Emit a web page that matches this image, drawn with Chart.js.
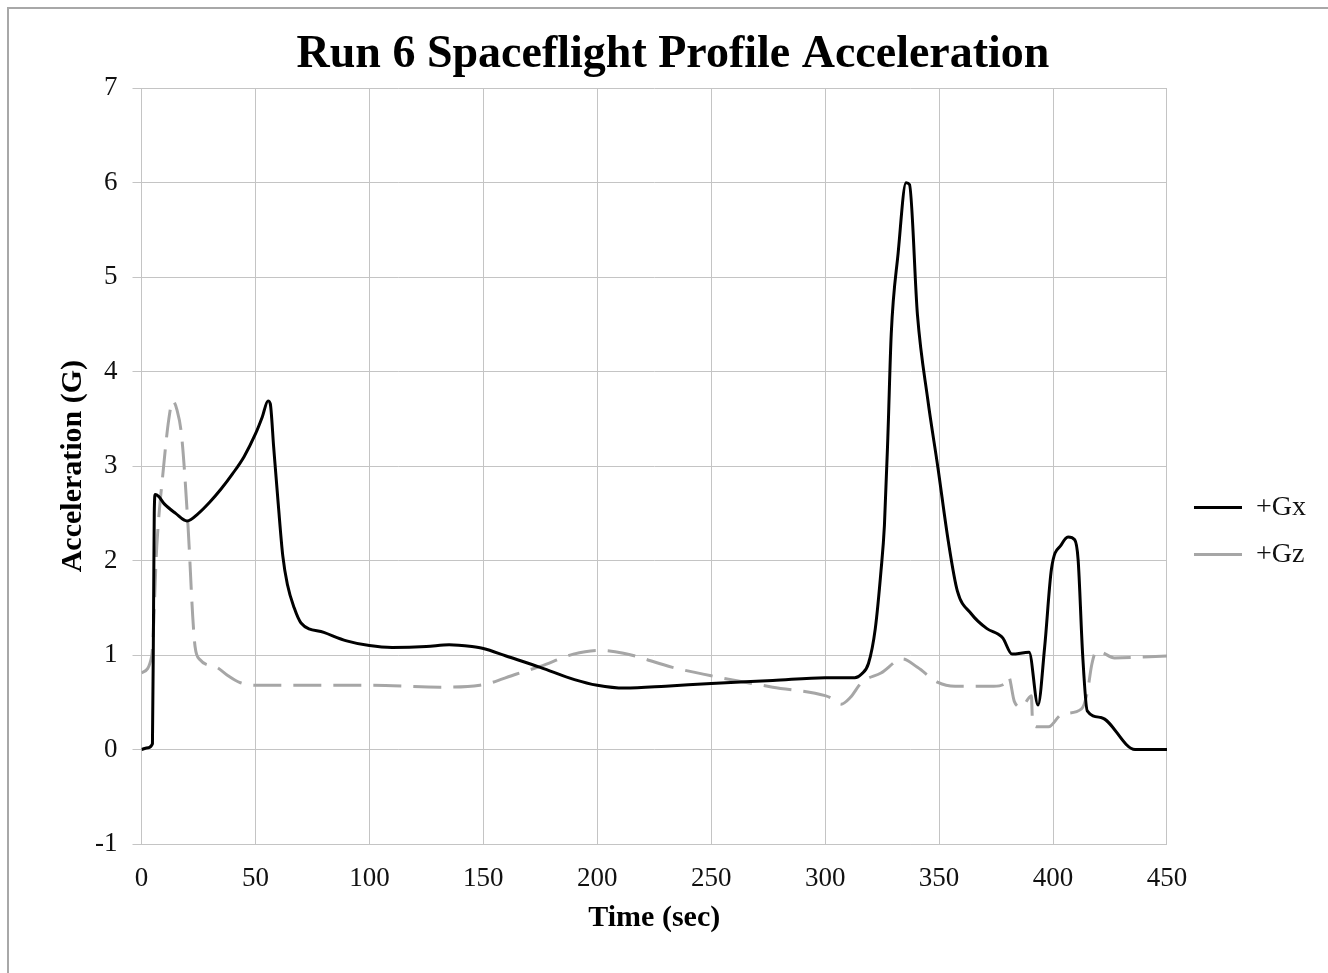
<!DOCTYPE html>
<html>
<head>
<meta charset="utf-8">
<script src="https://cdn.jsdelivr.net/npm/chart.js@4.4.1/dist/chart.umd.min.js"></script>
<style>
  html, body { margin: 0; padding: 0; background: #fff; }
  #wrap { position: relative; width: 1328px; height: 973px; overflow: hidden; }
  #frame { position: absolute; left: 7px; top: 7px; width: 1400px; height: 1000px; border: 2px solid #a8a8a8; box-sizing: border-box; }
  #wrap canvas { position: absolute; left: 0; top: 0; }
</style>
</head>
<body>
<div id="wrap">
  <div id="frame"></div>
  <canvas id="accelChart"></canvas>
</div>
<script>
// --- data ---
const gxTime = [0, 3, 4.8, 5.3, 5.6, 6, 7.5, 10, 15, 20, 25, 30, 35, 40, 45, 50, 53, 55.5, 56.5, 58, 60, 62, 64, 67, 70,
  80, 90, 100, 110, 125, 135, 145, 150, 160, 175, 190, 200, 212, 230, 250, 277, 300, 313, 316, 319, 322, 324.5, 326,
  327.5, 329, 332, 335.5, 337, 340.5, 345, 349.5, 354, 358, 364, 371, 376, 378, 382, 389.5, 393.4, 396.3, 399.3,
  403.7, 406.6, 409.5, 411, 413, 415, 421, 436, 450];
const gxValues = [0, 0.02, 0.06, 1.5, 2.5, 2.70, 2.68, 2.60, 2.50, 2.42, 2.50, 2.62, 2.76, 2.92, 3.10, 3.34, 3.52, 3.69, 3.66, 3.2, 2.6, 2.05, 1.75, 1.50, 1.34,
  1.24, 1.15, 1.10, 1.08, 1.09, 1.11, 1.09, 1.07, 0.99, 0.87, 0.74, 0.68, 0.65, 0.67, 0.70, 0.73, 0.76, 0.76, 0.80, 0.91, 1.28, 1.89, 2.37,
  3.30, 4.40, 5.25, 6.0, 5.98, 4.60, 3.71, 2.98, 2.21, 1.68, 1.44, 1.28, 1.22, 1.18, 1.01, 1.03, 0.47, 1.08, 1.91,
  2.17, 2.25, 2.22, 2.01, 1.0, 0.41, 0.34, 0.0, 0];

const gzTime = [0, 4.5, 6.7, 9.6, 12, 13.7, 15.5, 17.6, 20.5, 22.5, 23.5, 25.7, 33, 38, 43, 50, 70, 100, 131, 148.5, 164.6,
  175, 189.5, 201, 211.5, 233, 250, 277, 300, 303, 307, 311, 316, 324.5, 334, 340.5, 349.5, 357, 374, 379, 380.5,
  383, 386, 389.5, 390.5, 391, 393, 398, 403.7, 412.5, 415, 417, 419, 421.3, 427, 450];
const gzValues = [0.81, 0.99, 2.15, 2.97, 3.5, 3.69, 3.6, 3.32, 2.33, 1.4, 1.09, 0.95, 0.87, 0.78, 0.71, 0.68, 0.68, 0.68, 0.66, 0.68, 0.80,
  0.88, 1.01, 1.05, 1.02, 0.87, 0.78, 0.66, 0.57, 0.54, 0.48, 0.55, 0.71, 0.81, 0.96, 0.87, 0.71, 0.67, 0.67, 0.70, 0.77,
  0.51, 0.45, 0.55, 0.57, 0.30, 0.24, 0.24, 0.37, 0.43, 0.60, 0.90, 1.04, 1.03, 0.97, 0.99];

const xTickValues = [0, 50, 100, 150, 200, 250, 300, 350, 400, 450];
const yTickValues = [-1, 0, 1, 2, 3, 4, 5, 6, 7];

const seriesNames = ['+Gx', '+Gz'];

// --- helpers ---
function toPoints(xs, ys) {
    return xs.map((x, i) => ({ x: x, y: ys[i] }));
}

const gridColor = '#c4c4c4';
const serif = "'Liberation Serif', 'Times New Roman', serif";

// move the legend next to the plot like in the reference
const legendShift = {
    id: 'legendShift',
    afterLayout(chart) {
        if (chart.legend) {
            chart.legend.top += 63;
            chart.legend.bottom += 63;
            chart.legend.left += 8;
            chart.legend.right += 8;
        }
    }
};

new Chart(document.getElementById('accelChart'), {
    type: 'line',
    data: {
        datasets: [
            {
                label: seriesNames[0],
                data: toPoints(gxTime, gxValues),
                borderColor: '#000000',
                backgroundColor: '#000000',
                borderWidth: 3,
                pointRadius: 0,
                pointStyle: 'line',
                cubicInterpolationMode: 'monotone',
                order: 1
            },
            {
                label: seriesNames[1],
                data: toPoints(gzTime, gzValues),
                borderColor: '#a6a6a6',
                backgroundColor: '#a6a6a6',
                borderWidth: 3,
                borderDash: [28, 12],
                pointRadius: 0,
                pointStyle: 'line',
                cubicInterpolationMode: 'monotone',
                order: 2
            }
        ]
    },
    options: {
        responsive: true,
        maintainAspectRatio: false,
        animation: false,
        layout: {
            padding: { left: 38, right: 20, top: 0, bottom: 37 }
        },
        scales: {
            x: {
                type: 'linear',
                min: 0,
                max: 450,
                afterBuildTicks: (scale) => { scale.ticks = xTickValues.map(v => ({ value: v })); },
                afterFit: (scale) => { scale.height = 92; },
                grid: { color: gridColor, lineWidth: 1, drawTicks: false },
                border: { display: true, color: gridColor },
                ticks: {
                    padding: 19,
                    color: '#111',
                    font: { family: serif, size: 27 }
                },
                title: {
                    display: true,
                    text: 'Time (sec)',
                    color: '#000',
                    font: { family: serif, size: 30, weight: 'bold' },
                    padding: { top: 0, bottom: 0 }
                }
            },
            y: {
                min: -1,
                max: 7,
                afterBuildTicks: (scale) => { scale.ticks = yTickValues.map(v => ({ value: v })); },
                afterFit: (scale) => { scale.width = 103.5; },
                grid: { color: gridColor, lineWidth: 1, drawTicks: true, tickLength: 9, tickColor: gridColor },
                border: { display: true, color: gridColor },
                ticks: {
                    padding: 15,
                    color: '#111',
                    font: { family: serif, size: 27 }
                },
                title: {
                    display: true,
                    text: 'Acceleration (G)',
                    color: '#000',
                    font: { family: serif, size: 30, weight: 'bold' },
                    padding: { top: 17, bottom: 0 }
                }
            }
        },
        plugins: {
            title: {
                display: true,
                text: 'Run 6 Spaceflight Profile Acceleration',
                color: '#000',
                font: { family: serif, size: 46, weight: 'bold' },
                padding: { top: 28, bottom: 5 }
            },
            legend: {
                position: 'right',
                labels: {
                    usePointStyle: true,
                    pointStyleWidth: 48,
                    padding: 19,
                    color: '#111',
                    font: { family: serif, size: 28 }
                }
            },
            tooltip: { enabled: false }
        }
    },
    plugins: [legendShift]
});
</script>
</body>
</html>
